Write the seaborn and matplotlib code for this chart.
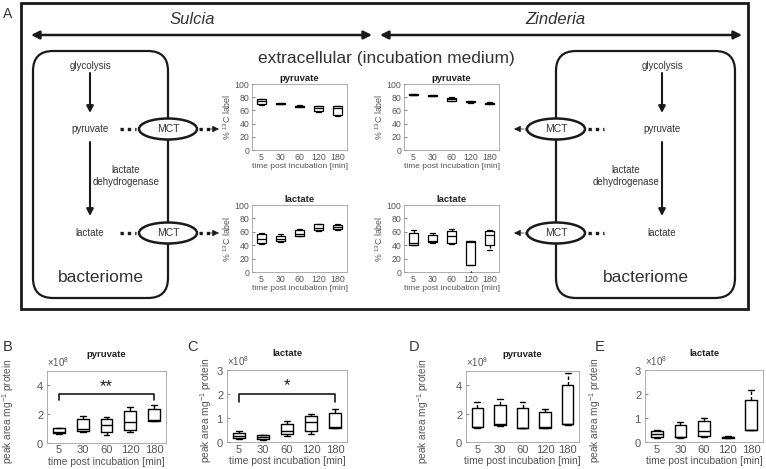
import numpy as np
import pandas as pd
import matplotlib.pyplot as plt
import seaborn as sns
from matplotlib.patches import FancyBboxPatch, Ellipse, Rectangle

# ---------------------------------------------------------------
# Data (five-number summaries: min, q1, median, q3, max)
# ---------------------------------------------------------------
times = ["5", "30", "60", "120", "180"]

# panel A insets, % 13C label
sulcia_pyruvate = [[68, 70, 74, 77, 78], [69, 69.5, 70, 70.5, 71], [64.5, 65, 66, 67, 67.5],
                   [58, 59, 63, 66.5, 67], [51, 53.5, 63, 66.5, 67]]
zinderia_pyruvate = [[83, 83.5, 84, 85, 85.5], [81.5, 82, 82.5, 83, 83.5], [74.5, 75, 77, 79, 80],
                     [71.5, 72, 72.5, 73.5, 74], [69.5, 70, 70.5, 71.5, 72]]
sulcia_lactate = [[42, 44, 50, 56, 58.5], [45, 46, 50, 54, 57], [53, 54, 57, 62, 64],
                  [61, 62, 66, 71, 72], [62, 64, 67, 70, 71]]
zinderia_lactate = [[40, 41, 43, 58, 63], [44, 45, 47, 55, 58], [42, 44, 53, 61, 64],
                    [10.5, 11, 45, 46, 46.5], [33, 41, 55, 61, 63]]
zinderia_lactate_outliers = {"120": [0.5]}

# panels B-E, peak area per mg protein (x 10^8)
b_pyruvate = [[0.58, 0.66, 0.75, 0.98, 1.0], [0.7, 0.77, 0.96, 1.64, 1.87], [0.52, 0.72, 1.2, 1.62, 1.8],
              [0.72, 0.89, 1.45, 2.2, 2.45], [1.5, 1.52, 1.55, 2.34, 2.6]]
c_lactate = [[0.12, 0.16, 0.24, 0.39, 0.46], [0.09, 0.11, 0.2, 0.28, 0.31], [0.27, 0.33, 0.45, 0.74, 0.87],
             [0.32, 0.45, 0.83, 1.08, 1.16], [0.58, 0.6, 0.64, 1.19, 1.36]]
d_pyruvate = [[1.02, 1.04, 1.08, 2.38, 2.8], [1.14, 1.17, 1.28, 2.62, 3.05], [0.98, 1.0, 1.02, 2.42, 2.85],
              [0.98, 1.0, 1.03, 2.08, 2.33], [1.22, 1.24, 1.27, 3.98, 4.85]]
e_lactate = [[0.18, 0.2, 0.34, 0.45, 0.5], [0.18, 0.2, 0.22, 0.7, 0.85], [0.2, 0.26, 0.45, 0.88, 1.0],
             [0.16, 0.18, 0.2, 0.22, 0.23], [0.48, 0.49, 0.5, 1.73, 2.15]]
SCALE = 1e8

# significance brackets: (bracket top, bracket foot, star height, label)
b_sig = (3.4, 2.95, 3.9, "**")
c_sig = (2.0, 1.68, 2.35, "*")

# ---------------------------------------------------------------
sns.set_theme(style="white")
plt.rcParams["font.family"] = ["Liberation Sans", "DejaVu Sans"]
plt.rcParams["mathtext.default"] = "regular"

W, H = 766, 469
fig = plt.figure(figsize=(W / 100, H / 100), dpi=100)

TXT = "#333333"
DARK = "#1a1a1a"
AX_EDGE = "#a0a0a0"
TICK_TXT = "#555555"


def px_axes(l, t, r, b):
    return fig.add_axes([l / W, 1 - b / H, (r - l) / W, (b - t) / H])


def to_frame(stats, scale=1.0):
    rows = [(t, v * scale) for t, s in zip(times, stats) for v in s]
    return pd.DataFrame(rows, columns=["time", "value"])


def draw_boxes(ax, stats, scale=1.0, lw=0.8):
    df = to_frame(stats, scale)
    sns.boxplot(data=df, x="time", y="value", order=times, whis=(0, 100), width=0.5,
                fill=False, color="black", linewidth=lw,
                whiskerprops={"linestyle": (0, (2.5, 1.5))}, ax=ax)
    ax.set_xlim(-0.5, 4.5)


def style_axes(ax, fs, xl_fs):
    for s in ax.spines.values():
        s.set_visible(True)
        s.set_color(AX_EDGE)
        s.set_linewidth(0.6)
    ax.tick_params(colors=TICK_TXT, labelsize=fs, direction="in", length=2, width=0.5, pad=2,
                   left=True, bottom=False)
    ax.set_xlabel("time post incubation [min]", fontsize=xl_fs, color=TICK_TXT, labelpad=1)


# ---------------------------------------------------------------
# Panel A schematic (pixel coordinates)
# ---------------------------------------------------------------
ax0 = fig.add_axes([0, 0, 1, 1])
ax0.set_xlim(0, W)
ax0.set_ylim(H, 0)
ax0.axis("off")

ax0.add_patch(Rectangle((21, 3), 727, 306, fill=False, lw=2.0, ec=DARK))
ax0.text(8, 14, "A", fontsize=10, ha="center", va="center", color=TXT)

ax0.text(192, 20, "Sulcia", fontsize=12, style="italic", ha="center", va="center", color=TXT)
ax0.text(555, 20, "Zinderia", fontsize=12, style="italic", ha="center", va="center", color=TXT)
for x0, x1 in [(31, 372), (380, 742)]:
    ax0.annotate("", xy=(x1, 35), xytext=(x0, 35),
                 arrowprops=dict(arrowstyle="<|-|>", lw=1.8, color=DARK, mutation_scale=12,
                                 shrinkA=0, shrinkB=0))
ax0.text(386, 58, "extracellular (incubation medium)", fontsize=12.5, ha="center", va="center",
         color=TXT)


def bacteriome(left, right, text_x, ldh_x, mct_x, side):
    ax0.add_patch(FancyBboxPatch((left, 51), right - left, 247,
                                 boxstyle="round,pad=0,rounding_size=20",
                                 fill=False, lw=1.6, ec=DARK))
    ax0.text(text_x, 66, "glycolysis", fontsize=7, ha="center", va="center", color=TXT)
    ax0.text(text_x, 129, "pyruvate", fontsize=7, ha="center", va="center", color=TXT)
    ax0.text(text_x, 233, "lactate", fontsize=7, ha="center", va="center", color=TXT)
    ax0.text(ldh_x, 176, "lactate\ndehydrogenase", fontsize=7, ha="center", va="center",
             color=TXT, linespacing=1.25)
    ax0.text((left + right) / 2, 278, "bacteriome", fontsize=12.5, ha="center", va="center",
             color=TXT)
    for y0, y1 in [(73, 113), (142, 216)]:
        ax0.annotate("", xy=(text_x, y1), xytext=(text_x, y0),
                     arrowprops=dict(arrowstyle="-|>", lw=1.5, color=DARK,
                                     mutation_scale=10, shrinkA=0, shrinkB=0))
    for y in [129, 233]:
        ax0.add_patch(Ellipse((mct_x, y), 58, 21, fc="white", ec=DARK, lw=1.8, zorder=3))
        ax0.text(mct_x, y, "MCT", fontsize=7.5, ha="center", va="center", color=TXT, zorder=4)
        if side == "left":
            ax0.plot([120, 136], [y, y], ls=(0, (1, 1.2)), lw=2.4, color=DARK)
            ax0.plot([199, 211], [y, y], ls=(0, (1, 1.2)), lw=2.4, color=DARK)
            ax0.annotate("", xy=(219, y), xytext=(209, y),
                         arrowprops=dict(arrowstyle="-|>", lw=0.5, color=DARK,
                                         mutation_scale=10, shrinkA=0, shrinkB=0))
        else:
            ax0.plot([mct_x + 32, mct_x + 48], [y, y], ls=(0, (1, 1.2)), lw=2.4, color=DARK)
            ax0.plot([mct_x - 31, mct_x - 19], [y, y], ls=(0, (1, 1.2)), lw=2.4, color=DARK)
            ax0.annotate("", xy=(mct_x - 42, y), xytext=(mct_x - 32, y),
                         arrowprops=dict(arrowstyle="-|>", lw=0.5, color=DARK,
                                         mutation_scale=10, shrinkA=0, shrinkB=0))


bacteriome(33, 168, 90, 126, 168, "left")
bacteriome(556, 735, 662, 626, 556, "right")

# ---------------------------------------------------------------
# Panel A insets
# ---------------------------------------------------------------
insets = [
    ((252, 84, 347, 150), sulcia_pyruvate, "pyruvate", {}),
    ((404, 84, 499, 150), zinderia_pyruvate, "pyruvate", {}),
    ((252, 205, 347, 272), sulcia_lactate, "lactate", {}),
    ((404, 205, 499, 272), zinderia_lactate, "lactate", zinderia_lactate_outliers),
]
for rect, stats, title, outliers in insets:
    ax = px_axes(*rect)
    draw_boxes(ax, stats, lw=0.9)
    for t, vals in outliers.items():
        ax.scatter([times.index(t)] * len(vals), vals, marker="^", s=7, color="#333333",
                   zorder=5, linewidths=0)
    ax.set_ylim(0, 100)
    ax.set_yticks(range(0, 101, 20))
    style_axes(ax, 6.3, 6)
    ax.set_title(title, fontsize=6.8, fontweight="bold", pad=2, color="#222222")
    ax.set_ylabel("% $^{13}$C label", fontsize=6.3, color=TICK_TXT, labelpad=1)

# ---------------------------------------------------------------
# Panels B-E
# ---------------------------------------------------------------
panels = [
    ("B", (8, 347), 16, (47, 371, 166, 442.5), b_pyruvate, "pyruvate", 5, [0, 2, 4], b_sig),
    ("C", (193, 347), 214, (227, 370, 347, 442), c_lactate, "lactate", 3, [0, 1, 2, 3], c_sig),
    ("D", (414, 347), 431, (466, 371, 579, 442), d_pyruvate, "pyruvate", 5, [0, 2, 4], None),
    ("E", (600, 347), 603, (645, 370, 763, 442), e_lactate, "lactate", 3, [0, 1, 2, 3], None),
]
for letter, lpos, ylab_x, rect, stats, title, top, yt, sig in panels:
    ax = px_axes(*rect)
    draw_boxes(ax, stats, scale=SCALE, lw=1.0)
    ax.set_ylim(0, top * SCALE)
    ax.set_yticks([v * SCALE for v in yt])
    ax.ticklabel_format(axis="y", style="sci", scilimits=(0, 0), useMathText=True)
    style_axes(ax, 8, 7.4)
    ax.yaxis.get_offset_text().set_fontsize(7)
    ax.yaxis.get_offset_text().set_color(TICK_TXT)
    ax.set_title(title, fontsize=6.8, fontweight="bold", pad=10, color="#222222")
    ax.set_ylabel("peak area mg$^{-1}$ protein", fontsize=7.3, color=TICK_TXT)
    # the y label's anchor is its right edge once rotated
    ax.yaxis.set_label_coords((ylab_x - rect[0]) / (rect[2] - rect[0]), 0.44)
    if sig is not None:
        hi, lo, star_y, label = sig
        ax.plot([0, 0, 4, 4], [lo * SCALE, hi * SCALE, hi * SCALE, lo * SCALE],
                color=DARK, lw=1.2)
        ax.text(2, star_y * SCALE, label, fontsize=12, ha="center", va="center", color=DARK)
    fig.text(lpos[0] / W, 1 - lpos[1] / H, letter, fontsize=10.5, ha="center", va="center",
             color=TXT)

fig.savefig("out.png", dpi=100)
